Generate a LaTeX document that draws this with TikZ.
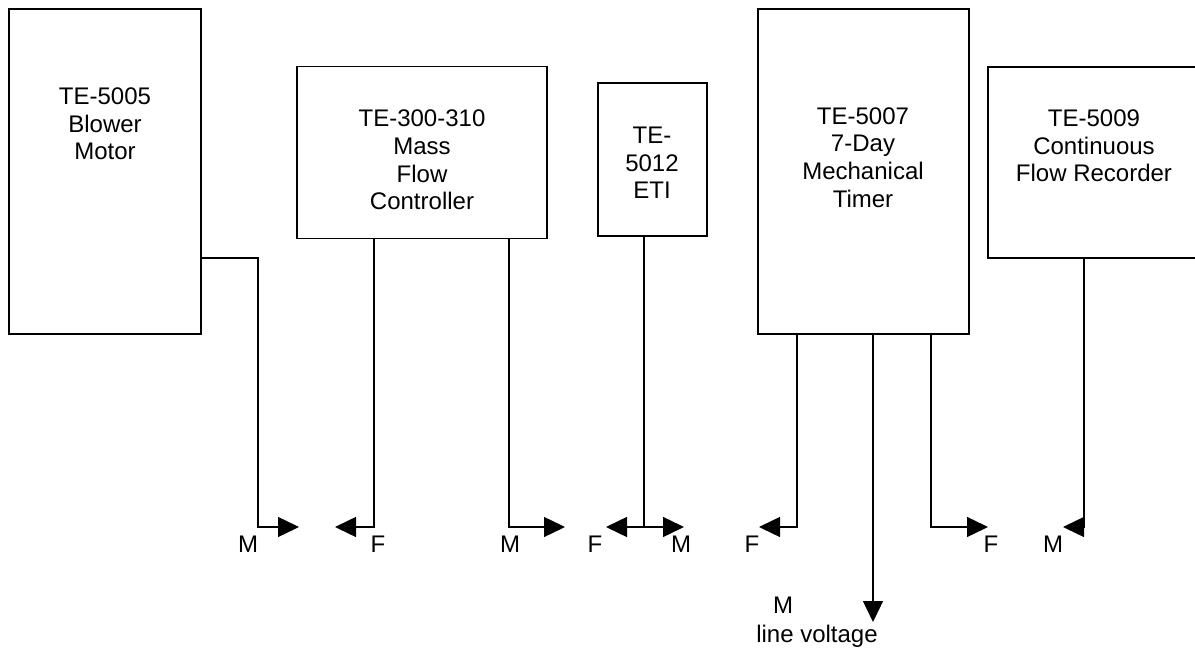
\documentclass[tikz,border=0pt]{standalone}
\usepackage{fontspec}
\setmainfont{Liberation Sans}
\usetikzlibrary{arrows.meta}
\tikzset{
  box/.style={draw, line width=1.6pt, inner sep=0pt},
  lbl/.style={align=center, inner sep=0pt, font=\fontsize{24}{27.6}\selectfont},
  wire/.style={line width=1.4pt, -{Triangle[length=21pt,width=20pt]}},
}
\begin{document}
\begin{tikzpicture}[x=1pt,y=-1pt]
\useasboundingbox (0,0) rectangle (1195,652);
% boxes
\node[box, minimum width=192pt, minimum height=325pt] (b1) at (105,171.5) {};
\node[box, minimum width=250pt, minimum height=172pt] (b2) at (422,152.5) {};
\node[box, minimum width=109pt, minimum height=153pt] (b3) at (652.5,159.5) {};
\node[box, minimum width=211pt, minimum height=325pt] (b4) at (863.5,171.5) {};
\node[box, minimum width=212pt, minimum height=191pt] (b5) at (1094,162.5) {};
% box texts
\node[lbl] (t1) at (105,124) {TE-5005\\Blower\\Motor};
\node[lbl] (t2) at (422,160) {TE-300-310\\Mass\\Flow\\Controller};
\node[lbl] (t3) at (652,163) {TE-\\5012\\ETI};
\node[lbl] (t4) at (863,157.5) {TE-5007\\7-Day\\Mechanical\\Timer};
\node[lbl] (t5) at (1094,146) {TE-5009\\Continuous\\Flow Recorder};
% arrow tips
\coordinate (a1) at (299,527);
\coordinate (a2) at (335,527);
\coordinate (a3) at (565,527);
\coordinate (a4) at (606,527);
\coordinate (a5) at (684,527);
\coordinate (a6) at (759,527);
\coordinate (a7) at (873,622);
\coordinate (a8) at (988,527);
\coordinate (a9) at (1063,527);
% connectors
\draw[wire] (b1.east |- 0,258) -| (258,527) -- (a1);
\draw[wire] (b2.south -| 374,0) |- (a2);
\draw[wire] (b2.south -| 509,0) |- (a3);
\draw[wire] (b3.south -| 644,0) |- (a4);
\draw[wire] (644,527) -- (a5);
\draw[wire] (b4.south -| 797,0) |- (a6);
\draw[wire] (b4.south -| 873,0) -- (a7);
\draw[wire] (b4.south -| 931,0) |- (a8);
\draw[wire] (b5.south -| 1084,0) |- (a9);
% labels
\node[lbl] (m1) at (248,544) {M};
\node[lbl] (f1) at (378,544) {F};
\node[lbl] (m2) at (510,544) {M};
\node[lbl] (f2) at (595,544) {F};
\node[lbl] (m3) at (681,544) {M};
\node[lbl] (f3) at (752,544) {F};
\node[lbl] (m4) at (783,605) {M};
\node[lbl, anchor=base] (lv) at (817,642) {line voltage};
\node[lbl] (f4) at (991,544) {F};
\node[lbl] (m5) at (1053,544) {M};
\end{tikzpicture}
\end{document}
